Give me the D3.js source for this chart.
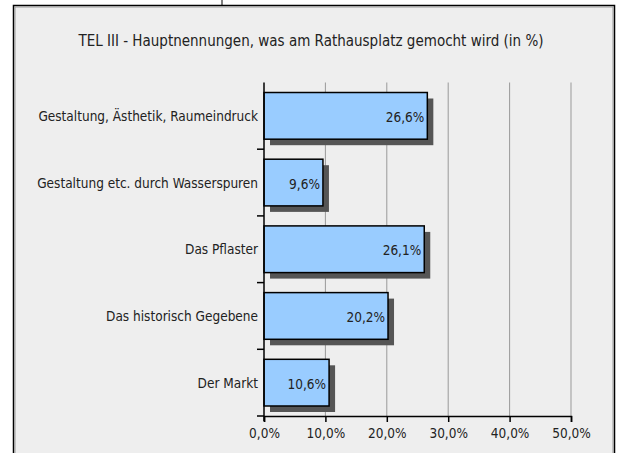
<!DOCTYPE html>
<html>
<head>
<meta charset="utf-8">
<script src="https://cdn.jsdelivr.net/npm/d3@7"></script>
<style>
  body { margin: 0; background: #fff; }
  svg { display: block; }
  text { font-family: "DejaVu Sans Condensed", "DejaVu Sans", sans-serif; fill: #222; }
</style>
</head>
<body>
<svg id="chart" width="617" height="453"></svg>
<script>
// chart data
var categories = [
    "Gestaltung, Ästhetik, Raumeindruck",
    "Gestaltung etc. durch Wasserspuren",
    "Das Pflaster",
    "Das historisch Gegebene",
    "Der Markt"
];
var values = [26.6, 9.6, 26.1, 20.2, 10.6];
var xTicks = [0, 10, 20, 30, 40, 50];
var title = "TEL III - Hauptnennungen, was am Rathausplatz gemocht wird (in %)";

var fmt = function(v) { return v.toFixed(1).replace(".", ",") + "%"; };

var svg = d3.select("#chart");

// outer frame
svg.append("line")
    .attr("x1", 222).attr("x2", 222).attr("y1", 0).attr("y2", 6)
    .attr("stroke", "#000").attr("stroke-width", 1);
svg.append("rect")
    .attr("x", 13.5).attr("y", 5.5).attr("width", 601).attr("height", 460)
    .attr("fill", "#eeeeee").attr("stroke", "#000").attr("stroke-width", 1.5);
svg.append("rect")
    .attr("x", 15).attr("y", 7).attr("width", 598).attr("height", 460)
    .attr("fill", "none").attr("stroke", "#999").attr("stroke-width", 1);

svg.append("text")
    .attr("x", 311).attr("y", 46)
    .attr("text-anchor", "middle")
    .style("font-size", "15px")
    .text(title);

var margin = { top: 82.5, left: 264, right: 571, bottom: 416 };

var x = d3.scaleLinear().domain([0, 50]).range([margin.left, margin.right]);
var y = d3.scaleBand().domain(categories).range([margin.top, margin.bottom])
    .paddingInner(0.3).paddingOuter(0.15);

// gridlines
svg.append("g")
    .selectAll("line")
    .data(xTicks.slice(1))
    .enter()
    .append("line")
    .attr("x1", function(d) { return x(d); })
    .attr("x2", function(d) { return x(d); })
    .attr("y1", margin.top)
    .attr("y2", margin.bottom)
    .attr("stroke", "#999")
    .attr("stroke-width", 1);

var bars = svg.append("g")
    .selectAll("g")
    .data(categories)
    .enter()
    .append("g");

// shadow
bars.append("rect")
    .attr("x", x(0) + 6)
    .attr("y", function(d) { return y(d) + 6; })
    .attr("width", function(d, i) { return x(values[i]) - x(0); })
    .attr("height", y.bandwidth())
    .attr("fill", "#555");

bars.append("rect")
    .attr("x", x(0))
    .attr("y", function(d) { return y(d); })
    .attr("width", function(d, i) { return x(values[i]) - x(0); })
    .attr("height", y.bandwidth())
    .attr("fill", "#99ccff")
    .attr("stroke", "#000")
    .attr("stroke-width", 1.5);

bars.append("text")
    .attr("x", function(d, i) { return x(values[i]) - 3; })
    .attr("y", function(d) { return y(d) + y.bandwidth() / 2 + 6; })
    .attr("text-anchor", "end")
    .style("font-size", "13.5px")
    .text(function(d, i) { return fmt(values[i]); });

// y axis
var yAxis = svg.append("g")
    .attr("transform", "translate(" + x(0) + ",0)");
yAxis.append("line")
    .attr("y1", margin.top).attr("y2", margin.bottom + 5)
    .attr("stroke", "#000").attr("stroke-width", 1.5);
var step = y.step();
yAxis.selectAll(".tick")
    .data(d3.range(categories.length))
    .enter()
    .append("line")
    .attr("x1", -7).attr("x2", 0)
    .attr("y1", function(i) { return y(categories[i]) + y.bandwidth() + step * y.paddingInner() / 2; })
    .attr("y2", function(i) { return y(categories[i]) + y.bandwidth() + step * y.paddingInner() / 2; })
    .attr("stroke", "#000").attr("stroke-width", 1.5);
svg.append("g")
    .selectAll("text")
    .data(categories)
    .enter()
    .append("text")
    .attr("x", 258)
    .attr("y", function(d) { return y(d) + y.bandwidth() / 2 + 5; })
    .attr("text-anchor", "end")
    .style("font-size", "13.5px")
    .text(function(d) { return d; });

// x axis
var xAxis = svg.append("g")
    .attr("transform", "translate(0," + margin.bottom + ")")
    .call(d3.axisBottom(x).tickValues(xTicks).tickSize(6).tickPadding(6).tickFormat(fmt));
xAxis.select(".domain").attr("stroke", "#000").attr("stroke-width", 1.5);
xAxis.selectAll(".tick line").attr("stroke", "#000").attr("stroke-width", 1.5);
xAxis.selectAll(".tick text")
    .style("font-size", "13.5px")
    .style("font-family", "'DejaVu Sans Condensed', 'DejaVu Sans', sans-serif")
    .attr("fill", "#222");
</script>
</body>
</html>
